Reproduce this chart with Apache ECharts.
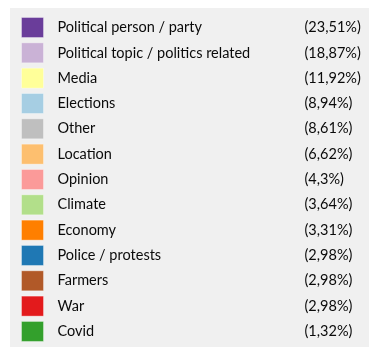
<!DOCTYPE html>
<html>
<head>
<meta charset="utf-8">
<script src="https://cdn.jsdelivr.net/npm/echarts@6/dist/echarts.min.js"></script>
<style>
  html, body { margin: 0; padding: 0; background: #ffffff; }
  #chart { width: 369px; height: 347px; }
</style>
</head>
<body>
<div id="chart"></div>
<script>
// Topic categories and their shares (percent)
const categories = [
  'Political person / party',
  'Political topic / politics related',
  'Media',
  'Elections',
  'Other',
  'Location',
  'Opinion',
  'Climate',
  'Economy',
  'Police / protests',
  'Farmers',
  'War',
  'Covid'
];
const shares = [23.51, 18.87, 11.92, 8.94, 8.61, 6.62, 4.3, 3.64, 3.31, 2.98, 2.98, 2.98, 1.32];
const colors = [
  '#6a3d9a', '#cab2d6', '#ffff99', '#a6cee3', '#bfbfbf', '#fdbf6f', '#fb9a99',
  '#b2df8a', '#ff7f00', '#1f78b4', '#b15928', '#e31a1c', '#33a02c'
];

const shareByName = {};
categories.forEach((c, i) => { shareByName[c] = shares[i]; });
const fmtShare = v => '(' + String(v).replace('.', ',') + '%)';

const FONT = 'Lato, "Open Sans", sans-serif';
const SIZE = 14.5;
const INK = '#0a0a0a';
const chart = echarts.init(document.getElementById('chart'), null, { renderer: 'canvas' });
chart.setOption({
  animation: false,
  color: colors,
  graphic: [{
    type: 'rect',
    shape: { x: 10, y: 8, width: 400, height: 400 },
    style: { fill: '#f0f0f0' },
    z: -10
  }],
  legend: {
    orient: 'vertical',
    left: 21,
    top: 17,
    height: 400,
    padding: 0,
    itemWidth: 22,
    itemHeight: 20,
    itemGap: 4.33,
    icon: 'rect',
    selectedMode: false,
    itemStyle: { borderColor: 'rgba(255,255,255,0.35)', borderWidth: 1 },
    data: categories,
    formatter: name => '{s|}{n|' + name + '}{p|' + fmtShare(shareByName[name]) + '}',
    textStyle: {
      fontFamily: FONT,
      fontSize: SIZE,
      color: INK,
      lineHeight: 18,
      rich: {
        s: { width: 9, lineHeight: 18, fontSize: SIZE },
        n: { width: 247, fontFamily: FONT, fontSize: SIZE, color: INK, lineHeight: 18 },
        p: { fontFamily: FONT, fontSize: SIZE, color: INK, lineHeight: 18 }
      }
    }
  },
  series: [{
    type: 'pie',
    radius: 0,
    center: [-100, -100],
    silent: true,
    label: { show: false },
    data: categories.map((c, i) => ({ name: c, value: shares[i] }))
  }]
});
</script>
</body>
</html>
